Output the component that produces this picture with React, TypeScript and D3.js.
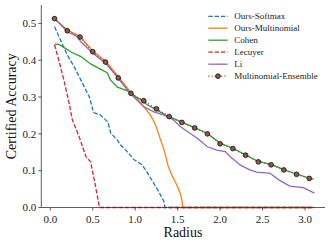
import React from "react";
import * as d3 from "d3";

const xTicks = [0, 0.5, 1.0, 1.5, 2.0, 2.5, 3.0];
const yTicks = [0, 0.1, 0.2, 0.3, 0.4, 0.5];

const softmaxR = [0.05, 0.12, 0.2, 0.28, 0.36, 0.46, 0.51, 0.59, 0.68, 0.71, 0.79, 0.83, 0.91, 0.98, 1.08, 1.14, 1.22, 1.28, 1.34, 1.35, 3.1];
const softmaxA = [0.491, 0.455, 0.414, 0.383, 0.346, 0.3, 0.258, 0.251, 0.232, 0.203, 0.183, 0.169, 0.151, 0.131, 0.116, 0.096, 0.065, 0.042, 0.015, 0, 0];

const multiR = [0.05, 0.2, 0.35, 0.5, 0.65, 0.8, 0.95, 1.02, 1.1, 1.18, 1.24, 1.3, 1.34, 1.39, 1.43, 1.49, 1.53, 1.55, 1.56, 3.1];
const multiA = [0.513, 0.482, 0.465, 0.425, 0.398, 0.356, 0.312, 0.297, 0.274, 0.251, 0.224, 0.183, 0.156, 0.111, 0.088, 0.061, 0.039, 0.02, 0, 0];

const cohenR = [0.05, 0.1, 0.16, 0.24, 0.36, 0.475, 0.59, 0.67, 0.71, 0.79, 0.91, 1.0, 1.06, 1.14, 1.25, 1.36, 1.4, 1.55, 1.7, 1.85, 2.0, 2.15, 2.3, 2.45, 2.6, 2.75, 2.9, 3.05, 3.1];
const cohenA = [0.444, 0.443, 0.435, 0.423, 0.41, 0.39, 0.376, 0.366, 0.346, 0.327, 0.317, 0.301, 0.294, 0.279, 0.265, 0.251, 0.247, 0.232, 0.217, 0.201, 0.175, 0.161, 0.143, 0.125, 0.117, 0.103, 0.091, 0.08, 0.077];

const lecuyerR = [0.05, 0.1, 0.16, 0.22, 0.26, 0.34, 0.42, 0.475, 0.53, 0.57, 0.58, 3.1];
const lecuyerA = [0.442, 0.4, 0.346, 0.285, 0.238, 0.192, 0.138, 0.124, 0.061, 0.011, 0, 0];

const liR = [0.05, 0.2, 0.32, 0.36, 0.5, 0.65, 0.77, 0.89, 0.94, 0.98, 1.1, 1.22, 1.34, 1.45, 1.53, 1.73, 1.85, 1.96, 2.06, 2.12, 2.24, 2.35, 2.43, 2.59, 2.69, 2.82, 2.98, 3.11];
const liA = [0.513, 0.478, 0.464, 0.45, 0.419, 0.392, 0.36, 0.324, 0.31, 0.301, 0.274, 0.26, 0.251, 0.238, 0.22, 0.188, 0.165, 0.156, 0.152, 0.138, 0.115, 0.102, 0.096, 0.093, 0.075, 0.058, 0.054, 0.039];

const ensR = [0.05, 0.2, 0.35, 0.5, 0.65, 0.8, 0.95, 1.1, 1.25, 1.4, 1.55, 1.7, 1.85, 2.0, 2.15, 2.3, 2.45, 2.6, 2.75, 2.9, 3.05];
const ensA = [0.513, 0.48, 0.463, 0.423, 0.395, 0.352, 0.31, 0.29, 0.268, 0.247, 0.231, 0.216, 0.2, 0.173, 0.16, 0.142, 0.124, 0.116, 0.102, 0.09, 0.079];

const seriesNames = ["Ours-Softmax", "Ours-Multinomial", "Cohen", "Lecuyer", "Li", "Multinomial-Ensemble"];
const seriesColors = ["#1f77b4", "#ff7f0e", "#2ca02c", "#d62728", "#9467bd", "#8c564b"];

const W = 332;
const H = 245;
const left = 41.3;
const right = 325;
const top = 5;
const bottom = 207.5;

export default function App() {
  const x = d3.scaleLinear().domain([-0.106, 3.235]).range([left, right]);
  const y = d3.scaleLinear().domain([0, 0.55]).range([bottom, top]);
  const line = d3
    .line<[number, number]>()
    .x((d) => x(d[0]))
    .y((d) => y(d[1]));
  const zip = (r: number[], a: number[]) => r.map((v, i) => [v, a[i]] as [number, number]);

  const series = [
    { data: zip(softmaxR, softmaxA), dash: "4.4,1.9", width: 1.3 },
    { data: zip(multiR, multiA), dash: undefined, width: 1.3 },
    { data: zip(cohenR, cohenA), dash: undefined, width: 1.3 },
    { data: zip(lecuyerR, lecuyerA), dash: "4.4,1.9", width: 1.3 },
    { data: zip(liR, liA), dash: undefined, width: 1.3 },
    { data: zip(ensR, ensA), dash: "1.2,2", width: 1.2 },
  ];
  const font = "'Liberation Serif', 'DejaVu Serif', serif";
  const legendY = [16.3, 28.2, 40.2, 52.2, 64.2, 76.2];

  return (
    <svg width={W} height={H} style={{ position: "absolute", left: 0, top: 0, background: "#fff" }} fontFamily={font}>
      {series.map((s, i) => (
        <path
          key={i}
          d={line(s.data) || ""}
          fill="none"
          stroke={seriesColors[i]}
          strokeWidth={s.width}
          strokeDasharray={s.dash}
        />
      ))}
      {ensR.map((r, i) => (
        <circle key={i} cx={x(r)} cy={y(ensA[i])} r={2.4} fill={seriesColors[5]} stroke="#000" strokeWidth={0.7} />
      ))}
      <line x1={left} x2={left} y1={top} y2={bottom} stroke="#333" strokeWidth={0.8} />
      <line x1={left} x2={right} y1={bottom} y2={bottom} stroke="#333" strokeWidth={0.8} />
      {xTicks.map((t) => (
        <g key={t}>
          <line x1={x(t)} x2={x(t)} y1={bottom} y2={bottom + 3} stroke="#333" strokeWidth={0.8} />
          <text x={x(t)} y={bottom + 15} textAnchor="middle" fontSize={11} fill="#222">
            {t.toFixed(1)}
          </text>
        </g>
      ))}
      {yTicks.map((t) => (
        <g key={t}>
          <line x1={left - 3} x2={left} y1={y(t)} y2={y(t)} stroke="#333" strokeWidth={0.8} />
          <text x={left - 5} y={y(t) + 3.8} textAnchor="end" fontSize={11} fill="#222">
            {t.toFixed(1)}
          </text>
        </g>
      ))}
      <text x={183} y={237} textAnchor="middle" fontSize={14} fill="#111">
        Radius
      </text>
      <text transform={`translate(16,${(top + bottom) / 2}) rotate(-90)`} textAnchor="middle" fontSize={14} fill="#111">
        Certified Accuracy
      </text>
      {seriesNames.map((n, i) => (
        <g key={n}>
          <line
            x1={208.3}
            x2={227.7}
            y1={legendY[i]}
            y2={legendY[i]}
            stroke={seriesColors[i]}
            strokeWidth={series[i].width}
            strokeDasharray={series[i].dash}
          />
          {i === 5 && <circle cx={218} cy={legendY[i]} r={2.4} fill={seriesColors[5]} stroke="#000" strokeWidth={0.7} />}
          <text x={234.3} y={legendY[i] + 3} fontSize={9} fill="#222">
            {n}
          </text>
        </g>
      ))}
    </svg>
  );
}
